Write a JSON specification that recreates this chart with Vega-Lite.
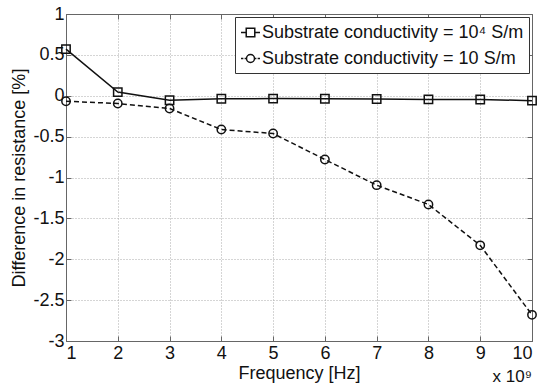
{
  "$schema": "https://vega.github.io/schema/vega-lite/v6.json",
  "width": 466,
  "height": 327,
  "autosize": "none",
  "padding": {"left": 66, "top": 14, "right": 11, "bottom": 51},
  "background": "white",
  "config": {
    "font": "Liberation Sans",
    "view": {"stroke": "#666", "strokeWidth": 1},
    "axis": {
      "labelFont": "Liberation Sans",
      "titleFont": "Liberation Sans",
      "labelFontSize": 18,
      "titleFontSize": 18,
      "titleFontWeight": "normal",
      "labelColor": "#111",
      "titleColor": "#111",
      "domainColor": "#666",
      "tickColor": "#666",
      "tickSize": -5,
      "gridColor": "#aaa",
      "gridDash": [1, 2],
      "gridWidth": 1
    },
    "legend": {
      "labelFont": "Liberation Sans",
      "labelFontSize": 18,
      "labelColor": "#111"
    }
  },
  "title": {
    "text": "x 10⁹",
    "orient": "bottom",
    "anchor": "end",
    "frame": "group",
    "offset": -13,
    "fontSize": 17,
    "fontWeight": "normal",
    "font": "Liberation Sans",
    "color": "#111"
  },
  "data": {
    "values": [
      {"f": 1, "d": 0.57, "s": "Substrate conductivity = 10⁴ S/m"},
      {"f": 2, "d": 0.045, "s": "Substrate conductivity = 10⁴ S/m"},
      {"f": 3, "d": -0.055, "s": "Substrate conductivity = 10⁴ S/m"},
      {"f": 4, "d": -0.037, "s": "Substrate conductivity = 10⁴ S/m"},
      {"f": 5, "d": -0.035, "s": "Substrate conductivity = 10⁴ S/m"},
      {"f": 6, "d": -0.036, "s": "Substrate conductivity = 10⁴ S/m"},
      {"f": 7, "d": -0.04, "s": "Substrate conductivity = 10⁴ S/m"},
      {"f": 8, "d": -0.045, "s": "Substrate conductivity = 10⁴ S/m"},
      {"f": 9, "d": -0.046, "s": "Substrate conductivity = 10⁴ S/m"},
      {"f": 10, "d": -0.06, "s": "Substrate conductivity = 10⁴ S/m"},
      {"f": 1, "d": -0.067, "s": "Substrate conductivity = 10 S/m"},
      {"f": 2, "d": -0.095, "s": "Substrate conductivity = 10 S/m"},
      {"f": 3, "d": -0.156, "s": "Substrate conductivity = 10 S/m"},
      {"f": 4, "d": -0.413, "s": "Substrate conductivity = 10 S/m"},
      {"f": 5, "d": -0.462, "s": "Substrate conductivity = 10 S/m"},
      {"f": 6, "d": -0.78, "s": "Substrate conductivity = 10 S/m"},
      {"f": 7, "d": -1.094, "s": "Substrate conductivity = 10 S/m"},
      {"f": 8, "d": -1.33, "s": "Substrate conductivity = 10 S/m"},
      {"f": 9, "d": -1.83, "s": "Substrate conductivity = 10 S/m"},
      {"f": 10, "d": -2.68, "s": "Substrate conductivity = 10 S/m"}
    ]
  },
  "layer": [
    {
      "layer": [
        {
          "transform": [{"filter": "datum.s === 'Substrate conductivity = 10 S/m'"}],
          "mark": {"type": "line", "color": "#111", "strokeWidth": 1.5, "strokeDash": [5, 3]},
          "encoding": {
            "x": {
              "field": "f", "type": "quantitative",
              "scale": {"domain": [1, 10], "nice": false, "zero": false},
              "axis": {
                "values": [1, 2, 3, 4, 5, 6, 7, 8, 9, 10],
                "title": "Frequency [Hz]",
                "labelPadding": 8,
                "titlePadding": 2,
                "labelExpr": "'' + datum.value"
              }
            },
            "y": {
              "field": "d", "type": "quantitative",
              "scale": {"domain": [-3, 1], "nice": false, "zero": false},
              "axis": {
                "values": [-3, -2.5, -2, -1.5, -1, -0.5, 0, 0.5, 1],
                "title": "Difference in resistance [%]",
                "labelPadding": 7,
                "titlePadding": 4,
                "labelExpr": "'' + datum.value"
              }
            }
          }
        },
        {
          "transform": [{"filter": "datum.s === 'Substrate conductivity = 10⁴ S/m'"}],
          "mark": {"type": "line", "color": "#111", "strokeWidth": 1.5},
          "encoding": {
            "x": {"field": "f", "type": "quantitative"},
            "y": {"field": "d", "type": "quantitative"}
          }
        },
        {
          "transform": [{"filter": "datum.s === 'Substrate conductivity = 10⁴ S/m'"}],
          "mark": {"type": "point", "shape": "square", "filled": false, "color": "#111", "strokeWidth": 1.5, "size": 70, "opacity": 1},
          "encoding": {
            "x": {"field": "f", "type": "quantitative"},
            "y": {"field": "d", "type": "quantitative"}
          }
        },
        {
          "transform": [{"filter": "datum.s === 'Substrate conductivity = 10 S/m'"}],
          "mark": {"type": "point", "shape": "circle", "filled": false, "color": "#111", "strokeWidth": 1.5, "size": 70, "opacity": 1},
          "encoding": {
            "x": {"field": "f", "type": "quantitative"},
            "y": {"field": "d", "type": "quantitative"}
          }
        },
        {
          "transform": [{"filter": "false"}],
          "mark": {"type": "point", "filled": false, "color": "#111", "strokeWidth": 1.5, "opacity": 1},
          "encoding": {
            "x": {"field": "f", "type": "quantitative"},
            "y": {"field": "d", "type": "quantitative"},
            "shape": {
              "field": "s", "type": "nominal",
              "scale": {
                "domain": ["Substrate conductivity = 10⁴ S/m", "Substrate conductivity = 10 S/m"],
                "range": [
                  "M-0.45,-0.45H0.45V0.45H-0.45ZM-1,0H-0.45M0.45,0H1",
                  "M0.42,0A0.42,0.42 0 1,1 -0.42,0A0.42,0.42 0 1,1 0.42,0ZM-1,0H-0.75M-0.62,0H-0.42M0.42,0H0.62M0.75,0H1"
                ]
              },
              "legend": {
                "title": null,
                "orient": "top-right",
                "offset": 3,
                "padding": 5,
                "rowPadding": 6,
                "strokeColor": "#333",
                "fillColor": "white",
                "symbolStrokeWidth": 1.5,
                "symbolStrokeColor": "#111",
                "symbolFillColor": "white",
                "symbolSize": 361,
                "symbolOpacity": 1,
                "labelOffset": 1,
                "labelLimit": 400
              }
            }
          }
        }
      ]
    },
    {
      "mark": {"type": "point", "opacity": 0},
      "encoding": {
        "x": {
          "field": "f", "type": "quantitative",
          "scale": {"domain": [1, 10], "nice": false, "zero": false},
          "axis": {
            "orient": "top",
            "values": [1, 2, 3, 4, 5, 6, 7, 8, 9, 10],
            "labels": false,
            "grid": false,
            "title": null
          }
        },
        "y": {
          "field": "d", "type": "quantitative",
          "scale": {"domain": [-3, 1], "nice": false, "zero": false},
          "axis": {
            "orient": "right",
            "values": [-3, -2.5, -2, -1.5, -1, -0.5, 0, 0.5, 1],
            "labels": false,
            "grid": false,
            "title": null
          }
        }
      }
    }
  ],
  "resolve": {"scale": {"x": "independent", "y": "independent"}}
}
